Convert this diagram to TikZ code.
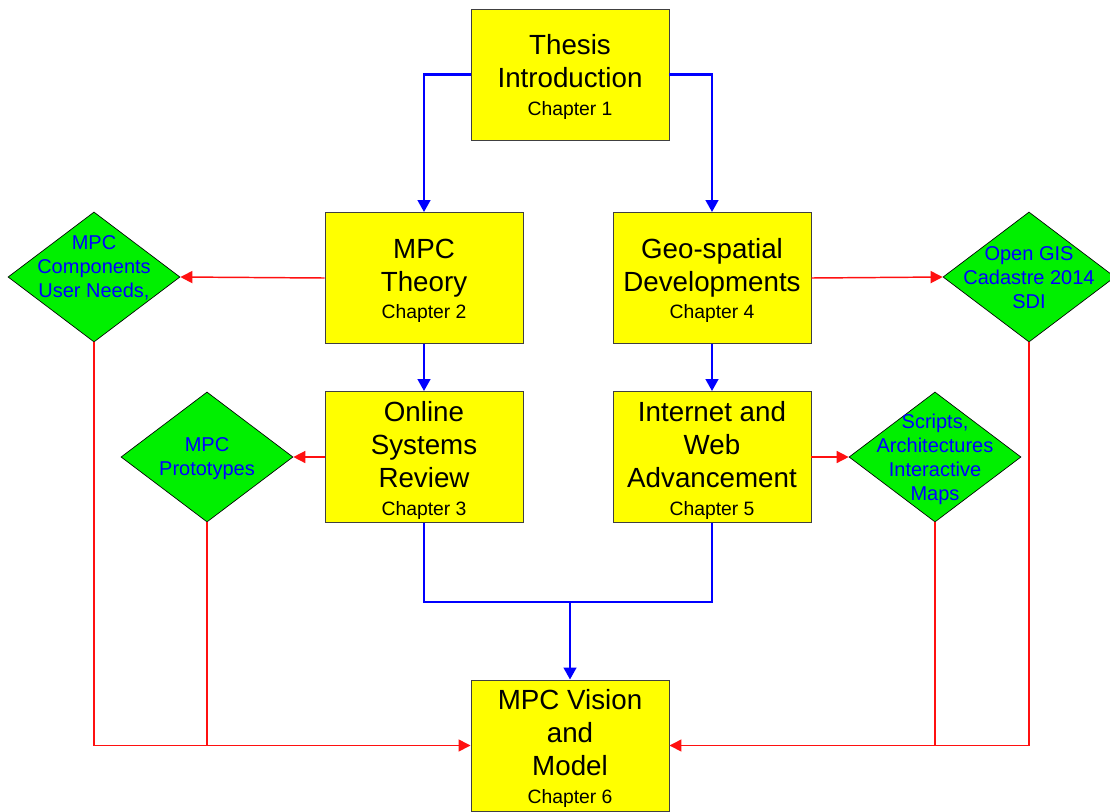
\documentclass[tikz,border=0pt]{standalone}
\usepackage{fontspec}
\setmainfont{Liberation Sans}
\usetikzlibrary{shapes.geometric,arrows.meta}
\definecolor{boxyellow}{HTML}{FFFF00}
\definecolor{dgreen}{HTML}{00F000}
\definecolor{lblue}{HTML}{0000FF}
\definecolor{lred}{HTML}{FF1010}
\tikzset{
  chapbox/.style={draw=black!75, line width=0.7pt, fill=boxyellow, rectangle,
    minimum width=148.5pt, minimum height=98.25pt, inner sep=0pt, align=center,
    font=\fontsize{20.8}{24.8}\selectfont},
  decision/.style={draw=black, line width=0.5pt, fill=dgreen, diamond, aspect=1.3,
    minimum width=129pt, minimum height=97.5pt, inner sep=0pt},
  dtext/.style={text=lblue, align=center, font=\fontsize{15}{18}\selectfont},
  bluearrow/.style={draw=lblue, line width=1.8pt, -{Triangle[length=9pt,width=9.5pt]}},
  blueline/.style={draw=lblue, line width=1.8pt},
  redarrow/.style={draw=lred, line width=1.1pt, -{Triangle[length=9pt,width=9pt]}},
  redline/.style={draw=lred, line width=1.1pt},
}
\newcommand{\chap}[1]{\\[-4pt]{\fontsize{14.5}{17}\selectfont #1}}
\newcommand{\padtop}[1]{\raisebox{0pt}{}\\[#1]}
\begin{document}
\begin{tikzpicture}[x=0.75pt,y=-0.75pt]
\useasboundingbox (0,0) rectangle (1110,811);
\fill[white] (0,0) rectangle (1110,811);

% chapter boxes
\node[chapbox] (thesis) at (570,74.5) {\padtop{-6pt}Thesis\\Introduction\chap{Chapter 1}};
\node[chapbox] (theory) at (424,278) {\padtop{-6pt}MPC\\Theory\chap{Chapter 2}};
\node[chapbox] (geo) at (712,278) {\padtop{-6pt}Geo-spatial\\Developments\chap{Chapter 4}};
\node[chapbox] (online) at (424,457) {\padtop{-5pt}Online\\Systems\\Review\chap{Chapter 3}};
\node[chapbox] (internet) at (712,457) {\padtop{-5pt}Internet and\\Web\\Advancement\chap{Chapter 5}};
\node[chapbox] (vision) at (570,745.5) {\padtop{-5pt}MPC Vision\\and\\Model\chap{Chapter 6}};

% decision diamonds
\node[decision] (d1) at (94,277) {};
\node[dtext] (d1t) at (94,267.5) {MPC\\Components\\User Needs,};
\node[decision] (d2) at (207,457) {};
\node[dtext] (d2t) at (207,458.5) {MPC\\Prototypes};
\node[decision] (d3) at (935,457) {};
\node[dtext] (d3t) at (935,459) {Scripts,\\Architectures\\Interactive\\Maps};
\node[decision] (d4) at (1029,277) {};
\node[dtext] (d4t) at (1029,278) {Open GIS\\Cadastre 2014\\SDI};

% blue connectors
\draw[bluearrow] (thesis.west) -| (theory.north);
\draw[bluearrow] (thesis.east) -| (geo.north);
\draw[bluearrow] (theory.south) -- (online.north);
\draw[bluearrow] (geo.south) -- (internet.north);
\coordinate (jn) at (570,602);
\draw[blueline] (online.south) |- (jn) -| (internet.south);
\draw[bluearrow] (jn) -- (vision.north);

% red connectors
\draw[redarrow] (theory.west) -- (d1.east);
\draw[redarrow] (geo.east) -- (d4.west);
\draw[redarrow] (online.west) -- (d2.east);
\draw[redarrow] (internet.east) -- (d3.west);
\draw[redarrow] (d1.south) |- (vision.west);
\draw[redline] (d2.south) -- (d2.south |- vision.west);
\draw[redarrow] (d4.south) |- (vision.east);
\draw[redline] (d3.south) -- (d3.south |- vision.east);
\end{tikzpicture}
\end{document}
